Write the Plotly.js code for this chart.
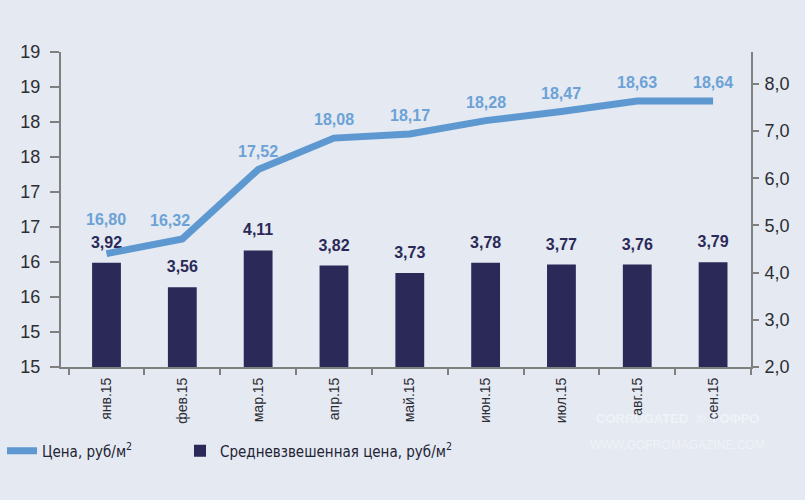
<!DOCTYPE html>
<html>
<head>
<meta charset="utf-8">
<script src="https://cdn.plot.ly/plotly-3.0.1.min.js"></script>
<style>
  html, body { margin: 0; padding: 0; background: #e4e9f2; }
  #chart { width: 805px; height: 500px; }
</style>
</head>
<body>
<div id="chart"></div>
<script>
// Categories (months)
var months = ['янв.15', 'фев.15', 'мар.15', 'апр.15', 'май.15', 'июн.15', 'июл.15', 'авг.15', 'сен.15'];

// Price, rub/m2 — printed labels and the line's drawn level on the left axis
var priceLabels = ['16,80', '16,32', '17,52', '18,08', '18,17', '18,28', '18,47', '18,63', '18,64'];
var priceLevel  = [16.12, 16.33, 17.32, 17.77, 17.83, 18.02, 18.15, 18.30, 18.30];

// Weighted average price, rub/m2 — printed labels and drawn bar heights on the right axis
var avgLabels = ['3,92', '3,56', '4,11', '3,82', '3,73', '3,78', '3,77', '3,76', '3,79'];
var avgLevel  = [4.21, 3.69, 4.47, 4.15, 3.99, 4.21, 4.17, 4.17, 4.22];

// Left axis tick labels (as printed)
var leftTickVals = [14.5, 15, 15.5, 16, 16.5, 17, 17.5, 18, 18.5, 19];
var leftTickText = ['15', '15', '16', '16', '17', '17', '18', '18', '19', '19'];
var rightTickVals = [2, 3, 4, 5, 6, 7, 8];

var SANS = '"Liberation Sans", Arial, sans-serif';
var COND = '"DejaVu Sans Condensed", "Liberation Sans", sans-serif';
var lineColor = 'rgb(94,152,208)';
var lineTextColor = 'rgb(108,162,214)';
var barColor = 'rgb(43,41,87)';
var axisColor = 'rgb(128,128,128)';
var tickColor = 'rgb(45,45,50)';
var bg = 'rgb(228,233,242)';

var traces = [
  {
    type: 'scatter', mode: 'lines',
    name: 'Цена, руб/м<sup>2</sup>',
    x: months, y: priceLevel,
    xaxis: 'x', yaxis: 'y2',
    line: { color: lineColor, width: 7 },
    legend: 'legend',
    hoverinfo: 'skip'
  },
  {
    type: 'bar',
    name: 'Средневзвешенная цена, руб/м<sup>2</sup>',
    x: months, y: avgLevel,
    xaxis: 'x', yaxis: 'y',
    width: 0.38,
    marker: { color: barColor },
    legend: 'legend2',
    hoverinfo: 'skip'
  },
  {
    // bar value labels (drawn in the bar subplot, beneath the price line)
    type: 'scatter', mode: 'markers+text',
    x: months, y: avgLevel,
    xaxis: 'x', yaxis: 'y',
    text: avgLabels,
    textposition: 'top center',
    marker: { size: 16, opacity: 0, color: barColor },
    textfont: { family: SANS, size: 16, color: barColor, weight: 'bold' },
    cliponaxis: false,
    showlegend: false,
    hoverinfo: 'skip'
  }
];

var annotations = months.map(function (m, i) {
  return {
    x: m, y: priceLevel[i], xref: 'x', yref: 'y2',
    text: '<b>' + priceLabels[i] + '</b>',
    showarrow: false, yanchor: 'bottom',
    yshift: i === 0 ? 24 : 8,
    xshift: i === 1 ? -12 : 0,
    font: { family: SANS, size: 16, color: lineTextColor }
  };
});
annotations.push({
  xref: 'paper', yref: 'paper', x: 0.893, y: -0.195, xanchor: 'center',
  text: '<b>CORRUGATED  ®  ГОФРО</b>', showarrow: false,
  font: { family: SANS, size: 13, color: 'rgba(255,255,255,0.45)' }
});
annotations.push({
  xref: 'paper', yref: 'paper', x: 0.893, y: -0.275, xanchor: 'center',
  text: 'WWW.GOFROMAGAZINE.COM', showarrow: false,
  font: { family: SANS, size: 12, color: 'rgba(255,255,255,0.45)' }
});

var legendFont = { family: COND, size: 15, color: 'rgb(35,35,50)' };

var layout = {
  width: 805, height: 500,
  paper_bgcolor: bg, plot_bgcolor: bg,
  margin: { l: 61, r: 54, t: 52, b: 133, autoexpand: false },
  separators: ', ',
  showlegend: true,
  legend: {
    orientation: 'h', xref: 'container', yref: 'container',
    x: 0.0025, xanchor: 'left', y: 0.098, yanchor: 'middle',
    font: legendFont, bgcolor: 'rgba(0,0,0,0)'
  },
  legend2: {
    orientation: 'h', xref: 'container', yref: 'container',
    x: 0.2236, xanchor: 'left', y: 0.098, yanchor: 'middle',
    font: legendFont, bgcolor: 'rgba(0,0,0,0)'
  },
  xaxis: {
    type: 'category', range: [-0.6, 8.5],
    showline: true, linecolor: axisColor, linewidth: 2,
    ticks: 'outside', tickson: 'boundaries', ticklen: 6, tickcolor: axisColor, tickwidth: 2,
    tickangle: -90, showgrid: false, zeroline: false, ticklabelstandoff: 3,
    tickfont: { family: SANS, size: 14, color: tickColor }
  },
  yaxis: {
    side: 'right', range: [2, 8.674],
    tickvals: rightTickVals, tickformat: '.1f',
    showline: true, linecolor: axisColor, linewidth: 2,
    ticks: 'outside', ticklen: 6, tickcolor: axisColor, tickwidth: 2,
    showgrid: false, zeroline: false, ticklabelstandoff: 2,
    tickfont: { family: SANS, size: 18, color: tickColor }
  },
  yaxis2: {
    side: 'left', overlaying: 'y', range: [14.5, 19],
    tickvals: leftTickVals, ticktext: leftTickText,
    showline: true, linecolor: axisColor, linewidth: 2,
    ticks: 'outside', ticklen: 9, tickcolor: axisColor, tickwidth: 2,
    showgrid: false, zeroline: false, ticklabelstandoff: 6,
    tickfont: { family: SANS, size: 18, color: tickColor }
  },
  annotations: annotations
};

Plotly.newPlot('chart', traces, layout, { displayModeBar: false, staticPlot: true });
</script>
</body>
</html>
